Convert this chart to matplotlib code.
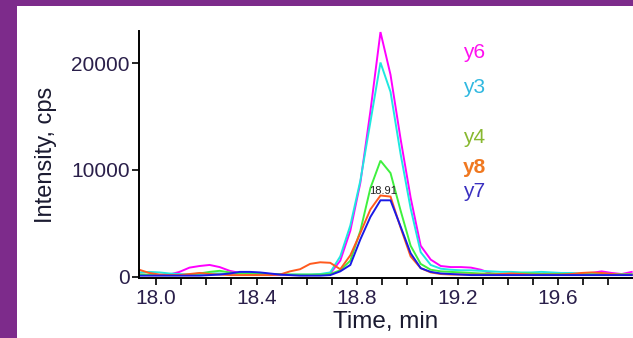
import matplotlib
matplotlib.use("Agg")
import matplotlib.pyplot as plt
from matplotlib.patches import Rectangle
from matplotlib.ticker import MultipleLocator

# ---- data ----
time = [17.933, 17.973, 18.013, 18.053, 18.093, 18.133, 18.173, 18.213, 18.253, 18.293,
        18.333, 18.373, 18.413, 18.453, 18.493, 18.533, 18.573, 18.613, 18.653, 18.693,
        18.733, 18.773, 18.813, 18.853, 18.893, 18.933, 18.973, 19.013, 19.053, 19.093,
        19.133, 19.173, 19.213, 19.253, 19.293, 19.333, 19.373, 19.413, 19.453, 19.493,
        19.533, 19.573, 19.613, 19.653, 19.693, 19.733, 19.773, 19.813, 19.853, 19.893]

y6 = [200, 150, 150, 200, 450, 850, 1000, 1100, 900, 550, 350, 250, 200, 150, 150, 150, 150, 150, 200, 300,
      1500, 4300, 8800, 15500, 22900, 18900, 12900, 7400, 2900, 1600, 1000, 900, 900, 850, 650, 300, 200, 200, 200, 200,
      250, 200, 200, 200, 250, 350, 500, 350, 250, 450]
y3 = [400, 450, 400, 300, 250, 200, 250, 300, 300, 250, 300, 350, 300, 250, 200, 200, 200, 200, 250, 400,
      1900, 4800, 9000, 14500, 20050, 17300, 11500, 6400, 2300, 1100, 750, 650, 600, 600, 550, 500, 450, 450, 400, 400,
      450, 400, 350, 350, 300, 300, 300, 250, 250, 250]
y4 = [200, 200, 150, 150, 150, 200, 300, 450, 550, 400, 300, 300, 300, 250, 250, 200, 200, 200, 200, 250,
      600, 1500, 4300, 8300, 10860, 9700, 6200, 2900, 1200, 650, 500, 450, 400, 350, 300, 300, 250, 250, 300, 300,
      250, 250, 250, 250, 250, 200, 200, 200, 200, 200]
y8 = [650, 350, 200, 150, 150, 250, 350, 250, 200, 150, 150, 150, 150, 150, 200, 500, 700, 1200, 1350, 1300,
      700, 2000, 4100, 6300, 7600, 7500, 4600, 1900, 800, 400, 250, 200, 200, 200, 200, 200, 250, 300, 250, 200,
      200, 200, 200, 250, 350, 400, 350, 250, 200, 200]
y7 = [100, 100, 100, 100, 100, 100, 100, 150, 200, 300, 450, 450, 400, 300, 200, 150, 100, 100, 100, 150,
      500, 1100, 3500, 5600, 7150, 7150, 4700, 2200, 800, 450, 300, 250, 200, 150, 150, 150, 150, 150, 150, 150,
      150, 150, 150, 150, 150, 150, 150, 150, 150, 150]

series_names = ["y6", "y3", "y4", "y8", "y7"]
series_vals = [y6, y3, y4, y8, y7]
line_colors = ["#ff00ff", "#1fe8e0", "#3ef03e", "#ff5a1e", "#1a1ae6"]
label_colors = ["#ff10f0", "#30b8e0", "#88b830", "#f07820", "#3a30c0"]
label_y = [20960, 17710, 13030, 10180, 7960]

peak_label = "18.91"
peak_pos = (18.903, 8050)

x_ticks = [18.0, 18.4, 18.8, 19.2, 19.6]
y_ticks = [0, 10000, 20000]

plt.rcParams['font.family'] = ['Liberation Sans', 'DejaVu Sans']

fig = plt.figure(figsize=(6.33, 3.38), dpi=100)
fig.patch.set_facecolor("#7d2b8b")
fig.add_artist(Rectangle((17 / 633, 0), 1 - 17 / 633, (338 - 6) / 338,
                         transform=fig.transFigure, facecolor="white",
                         edgecolor="none", zorder=0))

ax = fig.add_axes([139 / 633, (338 - 278.3) / 338, 1 - 139 / 633, (278.3 - 31) / 338])
ax.set_facecolor("none")

for name, vals, c in zip(series_names, series_vals, line_colors):
    ax.plot(time, vals, color=c, lw=1.4, solid_joinstyle="miter")

for name, c, yv in zip(series_names, label_colors, label_y):
    ax.text(19.222, yv, name, color=c, fontsize=15, va="center", ha="left",
            fontweight="bold" if name == "y8" else "normal")

ax.text(peak_pos[0], peak_pos[1], peak_label, fontsize=8, ha="center",
        va="center", color="#222222")

ax.set_xlim(17.932, 19.898)
ax.set_ylim(-150, 23000)
ax.set_xticks(x_ticks)
ax.set_xticklabels([f"{v:.1f}" for v in x_ticks])
ax.xaxis.set_minor_locator(MultipleLocator(0.1))
ax.set_yticks(y_ticks)
ax.set_yticklabels([str(v) for v in y_ticks])

for s in ["top", "right"]:
    ax.spines[s].set_visible(False)
for s in ["left", "bottom"]:
    ax.spines[s].set_linewidth(1.4)
    ax.spines[s].set_color("black")

tick_color = "#2a1f4a"
ax.tick_params(axis="both", which="both", direction="out", length=5, width=1.2,
               colors="black", labelcolor=tick_color, labelsize=15, pad=1.5)
ax.tick_params(axis="x", which="minor", length=5)
ax.tick_params(axis="x", which="major", pad=3)

ax.set_xlabel("Time, min", fontsize=17.5, color="#1a1a30", labelpad=2)
ax.set_ylabel("Intensity, cps", fontsize=17, color="#1a1a30", labelpad=10)

fig.savefig("out.png", dpi=100)
